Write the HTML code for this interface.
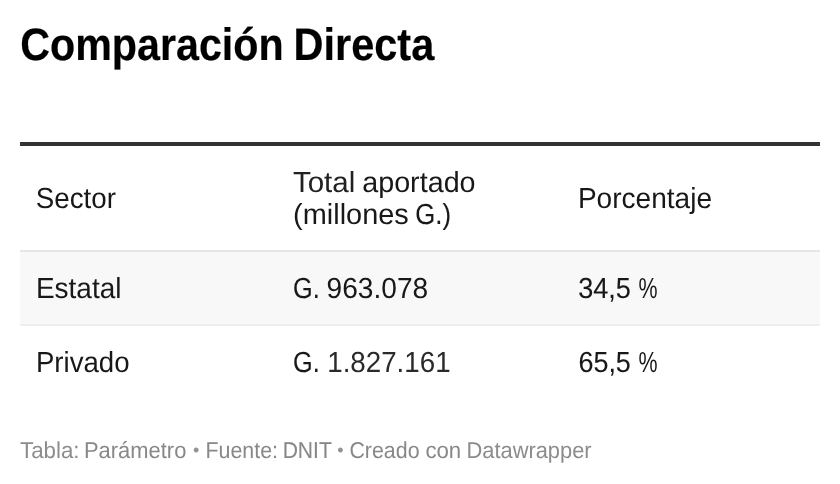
<!DOCTYPE html>
<html lang="es">
<head>
<meta charset="utf-8">
<meta name="viewport" content="width=840">
<title>Comparación Directa</title>
<style>
html,body{margin:0;padding:0;background:#fff;}
body{position:relative;width:840px;height:484px;overflow:hidden;font-family:"Liberation Sans",sans-serif;font-weight:400;text-rendering:geometricPrecision;}
h1{margin:0;font-weight:700;}
/* one absolutely placed box per text line; each word is an inline-block fitted to the reference ink extents */
.ln{position:absolute;white-space:nowrap;font-size:0;line-height:0;}
.ln span{display:inline-block;vertical-align:top;white-space:pre;transform-origin:0 0;}
h1 span{font-size:45.5px;line-height:52px;color:#000000;-webkit-text-stroke:0.2px #000000;}
.cell span{font-size:29px;line-height:32px;color:#181818;}
.foot span{font-size:23px;line-height:28px;color:#888888;}
.rule,.line,.stripe{position:absolute;left:20px;width:800px;}
.rule{top:142px;height:4px;background:#333333;}
.line.a{top:250px;height:2px;background:#e6e6e6;}
.stripe{top:252px;height:72px;background:#f8f8f8;}
.line.b{top:324px;height:2px;background:#eeeeee;}
</style>
</head>
<body>
<h1 class="ln" style="left:20px;top:19px"><span style="width:274px;transform:translateX(0.25px) scaleX(0.9059)">Comparación</span> <span style="transform:translateX(-0.43px) scaleX(0.912)">Directa</span></h1>
<div class="table" role="table">
<div class="rule"></div>
<div class="line a"></div>
<div class="stripe"></div>
<div class="line b"></div>
<div class="row head" role="row">
<div class="cell" role="columnheader"><div class="ln" style="left:36px;top:183px"><span style="transform:translateX(-0.15px) scaleX(0.9559)">Sector</span></div></div>
<div class="cell" role="columnheader"><div class="ln" style="left:293px;top:167px"><span style="width:69px;transform:translateX(-0.12px) scaleX(1.018);color:#212121">Total</span> <span style="transform:translateX(0.17px) scaleX(0.9907)">aportado</span></div>
<div class="ln" style="left:293px;top:199px"><span style="width:122px;transform:translateX(0.05px) scaleX(0.9974)">(millones</span> <span style="transform:translateX(0.25px) scaleX(0.8867);-webkit-text-stroke-width:0.1px">G.)</span></div></div>
<div class="cell" role="columnheader"><div class="ln" style="left:578px;top:183px"><span style="transform:translateX(-0.09px) scaleX(0.9671)">Porcentaje</span></div></div>
</div>
<div class="row" role="row">
<div class="cell" role="cell"><div class="ln" style="left:36px;top:273px"><span style="transform:translateX(-0.09px) scaleX(0.9645)">Estatal</span></div></div>
<div class="cell" role="cell"><div class="ln" style="left:293px;top:273px"><span style="width:34px;transform:translateX(0.09px) scaleX(0.8711);-webkit-text-stroke-width:0.1px">G.</span> <span style="transform:translateX(-0.41px) scaleX(0.9688)">963.078</span></div></div>
<div class="cell" role="cell"><div class="ln" style="left:578px;top:273px"><span style="width:61px;transform:translateX(0.13px) scaleX(0.9355);-webkit-text-stroke-width:0.1px">34,5</span> <span style="transform:translateX(-0.4px) scaleX(0.7395)">%</span></div></div>
</div>
<div class="row" role="row">
<div class="cell" role="cell"><div class="ln" style="left:36px;top:347px"><span style="transform:translateX(-0.06px) scaleX(0.9525)">Privado</span></div></div>
<div class="cell" role="cell"><div class="ln" style="left:293px;top:347px"><span style="width:34px;transform:translateX(0.09px) scaleX(0.8711);-webkit-text-stroke-width:0.1px">G.</span> <span style="transform:translateX(0.2px) scaleX(0.9566);color:#2a2a2a">1.827.161</span></div></div>
<div class="cell" role="cell"><div class="ln" style="left:578px;top:347px"><span style="width:61px;transform:translateX(0.39px) scaleX(0.9298);-webkit-text-stroke-width:0.1px">65,5</span> <span style="transform:translateX(-0.4px) scaleX(0.7395)">%</span></div></div>
</div>
</div>
<div class="foot"><div class="ln" style="left:20px;top:436px"><span style="width:64px;transform:translateX(-0.04px) scaleX(0.9714);color:#8d8d8d">Tabla:</span> <span style="width:109px;transform:translateX(-0.03px) scaleX(0.9535)">Parámetro</span> <span style="width:13px;transform:translateX(-0.09px) scaleX(1);font-size:18px;color:#949494">•</span> <span style="width:77px;transform:translateX(-0.48px) scaleX(0.9299)">Fuente:</span> <span style="width:54px;transform:translateX(-0.36px) scaleX(0.9169);-webkit-text-stroke-width:0.1px">DNIT</span> <span style="width:12px;transform:translateX(0.16px) scaleX(1);font-size:18px;color:#939393">•</span> <span style="width:76px;transform:translateX(0.4px) scaleX(0.9295)">Creado</span> <span style="width:41px;transform:translateX(0.38px) scaleX(0.9667)">con</span> <span style="transform:translateX(0.47px) scaleX(0.9503);color:#8c8c8c">Datawrapper</span></div></div>
</body>
</html>
